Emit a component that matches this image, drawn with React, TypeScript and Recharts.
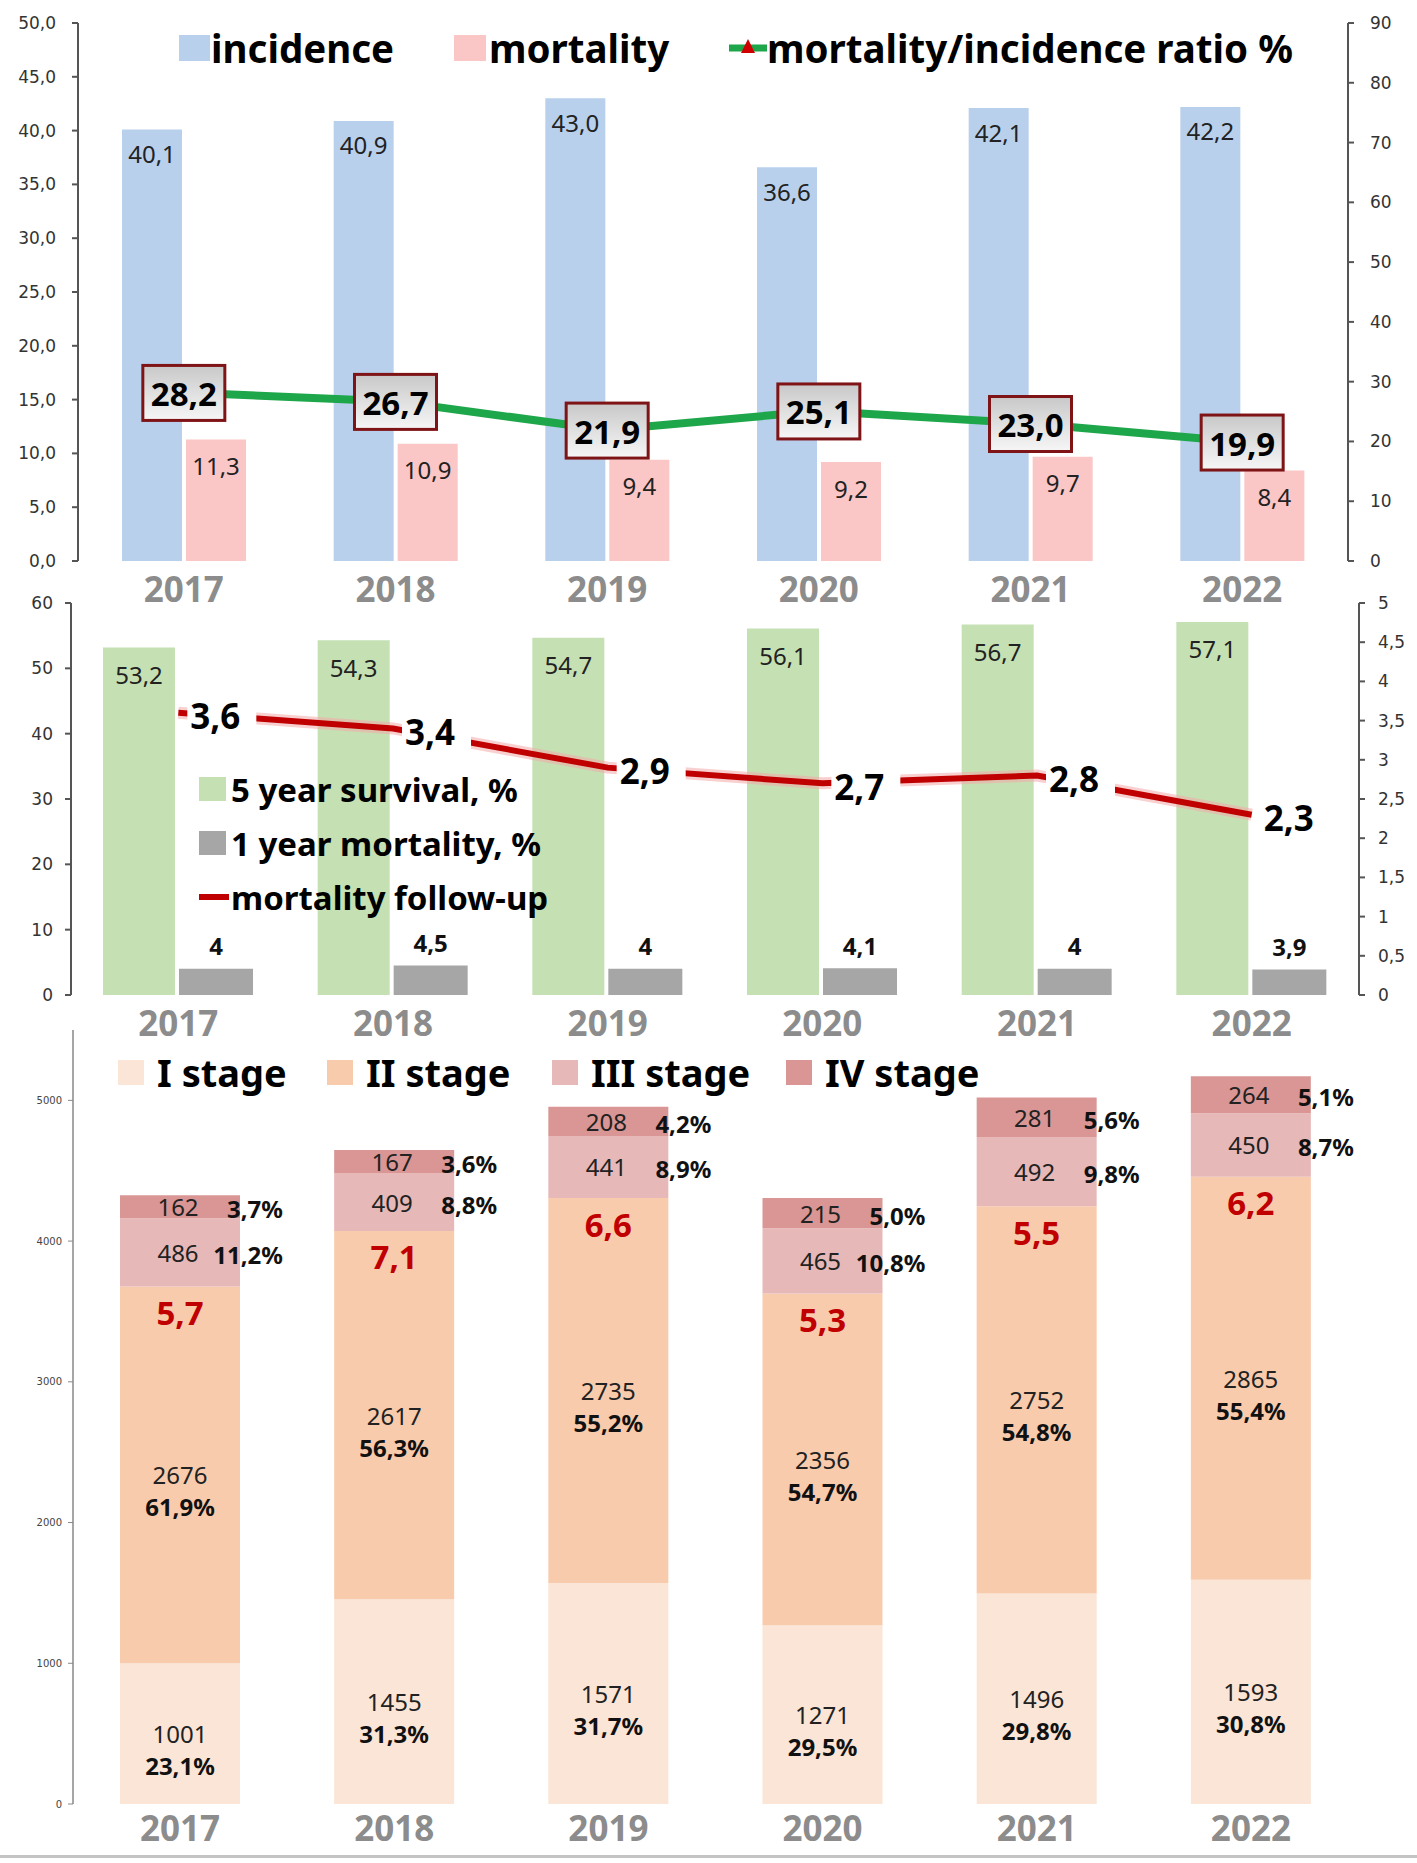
import React from "react";
import { ComposedChart, BarChart, Bar, Line, XAxis, YAxis, LabelList, Legend } from "recharts";

// ---- data ----
const years = ["2017", "2018", "2019", "2020", "2021", "2022"];

// panel 1
const incidence = [40.1, 40.9, 43.0, 36.6, 42.1, 42.2];
const mortality = [11.3, 10.9, 9.4, 9.2, 9.7, 8.4];
const ratio = [28.2, 26.7, 21.9, 25.1, 23.0, 19.9];
const leftTicks1 = [0, 5, 10, 15, 20, 25, 30, 35, 40, 45, 50];
const rightTicks1 = [0, 10, 20, 30, 40, 50, 60, 70, 80, 90];

// panel 2
const survival5 = [53.2, 54.3, 54.7, 56.1, 56.7, 57.1];
const mortality1 = [4, 4.5, 4, 4.1, 4, 3.9];
const followUp = [3.6, 3.4, 2.9, 2.7, 2.8, 2.3];
const leftTicks2 = [0, 10, 20, 30, 40, 50, 60];
const rightTicks2 = [0, 0.5, 1, 1.5, 2, 2.5, 3, 3.5, 4, 4.5, 5];

// panel 3
const stage1 = [1001, 1455, 1571, 1271, 1496, 1593];
const stage2 = [2676, 2617, 2735, 2356, 2752, 2865];
const stage3 = [486, 409, 441, 465, 492, 450];
const stage4 = [162, 167, 208, 215, 281, 264];
const stage1Pct = [23.1, 31.3, 31.7, 29.5, 29.8, 30.8];
const stage2Pct = [61.9, 56.3, 55.2, 54.7, 54.8, 55.4];
const stage3Pct = [11.2, 8.8, 8.9, 10.8, 9.8, 8.7];
const stage4Pct = [3.7, 3.6, 4.2, 5.0, 5.6, 5.1];
const stage2Marks = [5.7, 7.1, 6.6, 5.3, 5.5, 6.2];
const leftTicks3 = [0, 1000, 2000, 3000, 4000, 5000];

const W = 1417;
const SANS = "'Noto Sans', sans-serif";
const DEJAVU = "'DejaVu Sans', sans-serif";

const C = {
  incidence: "#b8d0ec",
  mortality: "#fbc6c6",
  ratio: "#1ea64b",
  survival: "#c5e0b3",
  mort1: "#a6a6a6",
  follow: "#c00000",
  s1: "#fbe5d6",
  s2: "#f8cbad",
  s3: "#e6b8b7",
  s4: "#d99694",
  year: "#8c8c8c",
  axis: "#555",
};

const comma = (v: number, d?: number) => (d == null ? String(v) : v.toFixed(d)).replace(".", ",");

const topRows = years.map((year, i) => ({ year, incidence: incidence[i], mortality: mortality[i], ratio: ratio[i] }));
const midRows = years.map((year, i) => ({ year, survival: survival5[i], mort1: mortality1[i], followUp: followUp[i] }));
const stageRows = years.map((year, i) => ({
  year,
  s1: stage1[i],
  s2: stage2[i],
  s3: stage3[i],
  s4: stage4[i],
  s1Label: `${stage1[i]}|${comma(stage1Pct[i], 1)}%`,
  s2Label: `${stage2[i]}|${comma(stage2Pct[i], 1)}%|${comma(stage2Marks[i], 1)}`,
  s3Label: `${stage3[i]}|${comma(stage3Pct[i], 1)}%`,
  s4Label: `${stage4[i]}|${comma(stage4Pct[i], 1)}%`,
}));

const axisTick = { fontFamily: DEJAVU, fontSize: 17, fill: "#333" };

function yearTick(dy: number) {
  return (p: any) => (
    <text x={p.x} y={p.y + dy} textAnchor="middle" dominantBaseline="central" fontFamily={SANS} fontWeight={700} fontSize={35} fill={C.year}>
      {p.payload.value}
    </text>
  );
}

// ---- panel 1 labels ----
function insideTop(dy: number, digits: number) {
  return (p: any) => (
    <text x={p.x + p.width / 2} y={p.y + dy} textAnchor="middle" dominantBaseline="central" fontFamily={SANS} fontSize={24} fill="#222">
      {comma(p.value, digits)}
    </text>
  );
}

function RatioBox(p: any) {
  if (p.x == null || p.y == null) return null;
  return (
    <g>
      <rect x={p.x - 41} y={p.y - 27} width={82} height={55} fill="url(#ratioBoxFill)" stroke="#7f1416" strokeWidth={3} />
      <text x={p.x} y={p.y + 1} textAnchor="middle" dominantBaseline="central" fontFamily={SANS} fontWeight={700} fontSize={33} fill="#000">
        {comma(p.value, 1)}
      </text>
    </g>
  );
}

function TopLegend() {
  const txt: React.CSSProperties = { position: "absolute", top: 0, fontFamily: SANS, fontWeight: 700, fontSize: 38.5, lineHeight: "56px", color: "#000", whiteSpace: "nowrap" };
  return (
    <div style={{ position: "relative", width: W, height: 56 }}>
      <div style={{ position: "absolute", left: 179, top: 15, width: 31, height: 26, background: C.incidence }} />
      <div style={{ ...txt, left: 211 }}>incidence</div>
      <div style={{ position: "absolute", left: 454, top: 15, width: 32, height: 26, background: C.mortality }} />
      <div style={{ ...txt, left: 489 }}>mortality</div>
      <svg style={{ position: "absolute", left: 729, top: 16 }} width={38} height={24}>
        <line x1={0} y1={12} x2={38} y2={12} stroke={C.ratio} strokeWidth={7} />
        <polygon points="19,3 26,17 12,17" fill="#d00000" />
      </svg>
      <div style={{ ...txt, left: 767 }}>mortality/incidence ratio %</div>
    </div>
  );
}

function TopPanel() {
  return (
    <ComposedChart width={W} height={610} data={topRows} margin={{ top: 23, right: 9, left: 18, bottom: 0 }}>
      <defs>
        <linearGradient id="ratioBoxFill" x1="0" y1="0" x2="0" y2="1">
          <stop offset="0%" stopColor="#c8c8c8" />
          <stop offset="55%" stopColor="#e2e2e2" />
          <stop offset="100%" stopColor="#f6f6f6" />
        </linearGradient>
      </defs>
      <XAxis dataKey="year" axisLine={false} tickLine={false} tickSize={0} tickMargin={0} height={49} tick={yearTick(27)} interval={0} />
      <YAxis yAxisId="left" width={60} domain={[0, 50]} ticks={leftTicks1} tickFormatter={(v) => comma(v, 1)} tick={axisTick} axisLine={{ stroke: C.axis, strokeWidth: 2 }} tickLine={{ stroke: C.axis, strokeWidth: 2 }} tickSize={6} tickMargin={16} interval={0} />
      <YAxis yAxisId="right" orientation="right" width={60} domain={[0, 90]} ticks={rightTicks1} tick={axisTick} axisLine={{ stroke: C.axis, strokeWidth: 2 }} tickLine={{ stroke: C.axis, strokeWidth: 2 }} tickSize={6} tickMargin={16} interval={0} />
      <Legend layout="vertical" align="center" verticalAlign="middle" wrapperStyle={{ top: 20, left: 0, width: W }} content={() => <TopLegend />} />
      <Bar yAxisId="left" dataKey="incidence" fill={C.incidence} barSize={60} isAnimationActive={false}>
        <LabelList dataKey="incidence" content={insideTop(24, 1)} />
      </Bar>
      <Bar yAxisId="left" dataKey="mortality" fill={C.mortality} barSize={60} isAnimationActive={false}>
        <LabelList dataKey="mortality" content={insideTop(26, 1)} />
      </Bar>
      <Line yAxisId="right" dataKey="ratio" type="linear" stroke={C.ratio} strokeWidth={8} dot={false} activeDot={false} isAnimationActive={false}>
        <LabelList dataKey="ratio" content={RatioBox} />
      </Line>
    </ComposedChart>
  );
}

// ---- panel 2 ----
function FollowLabel(p: any) {
  if (p.x == null || p.y == null) return null;
  const s = comma(p.value);
  return (
    <g>
      <rect x={p.x + 9} y={p.y - 21} width={s.length * 21 + 6} height={44} fill="#fff" />
      <text x={p.x + 12} y={p.y + 3} dominantBaseline="central" fontFamily={SANS} fontWeight={700} fontSize={35} fill="#000">
        {s}
      </text>
    </g>
  );
}

function MidLegend() {
  const row: React.CSSProperties = { position: "absolute", left: 0, height: 54, display: "flex", alignItems: "center", fontFamily: SANS, fontWeight: 700, fontSize: 33, color: "#000", whiteSpace: "nowrap" };
  const sw = (bg: string): React.CSSProperties => ({ width: 27, height: 24, background: bg, marginRight: 5 });
  return (
    <div style={{ position: "relative", width: 460, height: 162 }}>
      <div style={{ ...row, top: 0 }}>
        <div style={sw(C.survival)} />5 year survival, %
      </div>
      <div style={{ ...row, top: 54 }}>
        <div style={sw(C.mort1)} />1 year mortality, %
      </div>
      <div style={{ ...row, top: 108 }}>
        <svg width={30} height={20} style={{ marginRight: 2 }}>
          <line x1={0} y1={10} x2={30} y2={10} stroke={C.follow} strokeWidth={6} />
        </svg>
        mortality follow-up
      </div>
    </div>
  );
}

function MidPanel() {
  return (
    <ComposedChart width={W} height={470} data={midRows} margin={{ top: 23, right: 0, left: 11, bottom: 0 }}>
      <XAxis dataKey="year" axisLine={false} tickLine={false} tickSize={0} tickMargin={0} height={55} tick={yearTick(27)} interval={0} />
      <YAxis yAxisId="left" width={60} domain={[0, 60]} ticks={leftTicks2} tick={axisTick} axisLine={{ stroke: C.axis, strokeWidth: 2 }} tickLine={{ stroke: C.axis, strokeWidth: 2 }} tickSize={6} tickMargin={12} interval={0} />
      <YAxis yAxisId="right" orientation="right" width={58} domain={[0, 5]} ticks={rightTicks2} tickFormatter={(v) => comma(v)} tick={axisTick} axisLine={{ stroke: C.axis, strokeWidth: 2 }} tickLine={{ stroke: C.axis, strokeWidth: 2 }} tickSize={6} tickMargin={13} interval={0} />
      <Legend layout="vertical" align="center" verticalAlign="middle" wrapperStyle={{ top: 182, left: 199, width: 460 }} content={() => <MidLegend />} />
      <Bar yAxisId="left" dataKey="survival" fill={C.survival} barSize={72} isAnimationActive={false}>
        <LabelList dataKey="survival" content={insideTop(27, 1)} />
      </Bar>
      <Bar yAxisId="left" dataKey="mort1" fill={C.mort1} barSize={74} isAnimationActive={false}>
        <LabelList
          dataKey="mort1"
          content={(p: any) => (
            <text x={p.x + p.width / 2} y={p.y - 23} textAnchor="middle" dominantBaseline="central" fontFamily={SANS} fontWeight={700} fontSize={24} fill="#111">
              {comma(p.value)}
            </text>
          )}
        />
      </Bar>
      <Line yAxisId="right" dataKey="followUp" type="linear" stroke="#f4a9a9" strokeOpacity={0.55} strokeWidth={12} dot={false} activeDot={false} legendType="none" isAnimationActive={false} />
      <Line yAxisId="right" dataKey="followUp" type="linear" stroke={C.follow} strokeWidth={6} dot={false} activeDot={false} isAnimationActive={false}>
        <LabelList dataKey="followUp" content={FollowLabel} />
      </Line>
    </ComposedChart>
  );
}

// ---- panel 3 ----
function twoLine(p: any) {
  const [count, pct, mark] = String(p.value).split("|");
  const cx = p.x + p.width / 2;
  const cy = p.y + p.height / 2;
  return (
    <g>
      <text x={cx} y={cy} textAnchor="middle" dominantBaseline="central" fontFamily={SANS} fontSize={24} fill="#222">
        {count}
      </text>
      <text x={cx} y={cy + 32} textAnchor="middle" dominantBaseline="central" fontFamily={SANS} fontWeight={700} fontSize={24} fill="#111">
        {pct}
      </text>
      {mark && (
        <text x={cx} y={p.y + 26} textAnchor="middle" dominantBaseline="central" fontFamily={SANS} fontWeight={700} fontSize={33} fill="#c00000">
          {mark}
        </text>
      )}
    </g>
  );
}

function sideLabel(p: any) {
  const [count, pct] = String(p.value).split("|");
  const cx = p.x + p.width / 2;
  const cy = p.y + p.height / 2;
  return (
    <g>
      <text x={cx - 2} y={cy} textAnchor="middle" dominantBaseline="central" fontFamily={SANS} fontSize={24} fill="#222">
        {count}
      </text>
      <text x={cx + 103} y={cy + 2} textAnchor="end" dominantBaseline="central" fontFamily={SANS} fontWeight={700} fontSize={24} fill="#111">
        {pct}
      </text>
    </g>
  );
}

function StageLegend() {
  const items = [
    { label: "I stage", color: C.s1, left: 118 },
    { label: "II stage", color: C.s2, left: 327 },
    { label: "III stage", color: C.s3, left: 552 },
    { label: "IV stage", color: C.s4, left: 786 },
  ];
  return (
    <div style={{ position: "relative", width: W, height: 56 }}>
      {items.map((it) => (
        <div key={it.label} style={{ position: "absolute", left: it.left, top: 0, height: 56, display: "flex", alignItems: "center", fontFamily: SANS, fontWeight: 700, fontSize: 38, color: "#000", whiteSpace: "nowrap" }}>
          <div style={{ width: 26, height: 25, background: it.color, marginRight: 13 }} />
          {it.label}
        </div>
      ))}
    </div>
  );
}

function StagePanel() {
  return (
    <BarChart width={W} height={854} data={stageRows} margin={{ top: 30, right: 59, left: 13, bottom: 0 }}>
      <XAxis dataKey="year" axisLine={false} tickLine={false} tickSize={0} tickMargin={0} height={50} tick={yearTick(23)} interval={0} />
      <YAxis width={60} domain={[0, 5500]} ticks={leftTicks3} tick={{ fontFamily: DEJAVU, fontSize: 10, fill: "#444" }} axisLine={{ stroke: "#888", strokeWidth: 1.5 }} tickLine={{ stroke: "#888" }} tickSize={5} tickMargin={6} interval={0} />
      <Legend layout="vertical" align="center" verticalAlign="middle" wrapperStyle={{ top: 44, left: 0, width: W }} content={() => <StageLegend />} />
      <Bar dataKey="s1" stackId="st" fill={C.s1} barSize={120} isAnimationActive={false}>
        <LabelList dataKey="s1Label" content={twoLine} />
      </Bar>
      <Bar dataKey="s2" stackId="st" fill={C.s2} barSize={120} isAnimationActive={false}>
        <LabelList dataKey="s2Label" content={twoLine} />
      </Bar>
      <Bar dataKey="s3" stackId="st" fill={C.s3} barSize={120} isAnimationActive={false}>
        <LabelList dataKey="s3Label" content={sideLabel} />
      </Bar>
      <Bar dataKey="s4" stackId="st" fill={C.s4} barSize={120} isAnimationActive={false}>
        <LabelList dataKey="s4Label" content={sideLabel} />
      </Bar>
    </BarChart>
  );
}

export default function App() {
  return (
    <div style={{ position: "absolute", left: 0, top: 0, width: W, height: 1863, background: "#fff", overflow: "hidden" }}>
      <div style={{ position: "absolute", left: 0, top: 0 }}>
        <TopPanel />
      </div>
      <div style={{ position: "absolute", left: 0, top: 580 }}>
        <MidPanel />
      </div>
      <div style={{ position: "absolute", left: 0, top: 1000 }}>
        <StagePanel />
      </div>
      <div style={{ position: "absolute", left: 0, top: 1855, width: W, height: 3, background: "#c4c4c4" }} />
    </div>
  );
}
